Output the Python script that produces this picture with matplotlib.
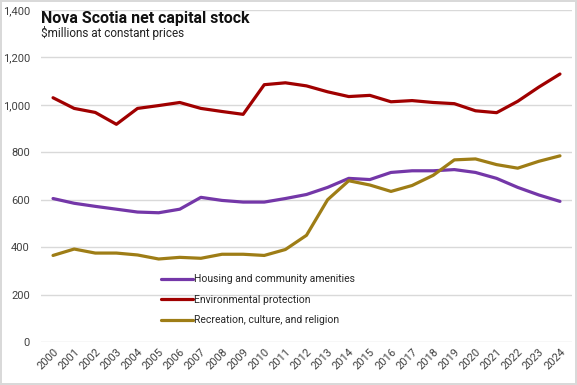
import matplotlib
matplotlib.use("Agg")
import matplotlib.pyplot as plt

years = list(range(2000, 2025))
housing = [605, 585, 572, 560, 548, 545, 560, 610, 597, 590, 590, 605, 622, 652, 690,
           685, 715, 722, 722, 727, 715, 690, 652, 620, 593]
environment = [1030, 985, 968, 918, 985, 997, 1010, 985, 972, 960, 1085, 1093, 1080, 1055, 1035,
               1040, 1013, 1018, 1010, 1005, 975, 967, 1015, 1075, 1130]
recreation = [365, 392, 375, 375, 367, 350, 357, 353, 370, 370, 365, 390, 450, 600, 680,
              662, 635, 660, 703, 768, 772, 748, 733, 762, 785]
series_names = ["Housing and community amenities", "Environmental protection",
                "Recreation, culture, and religion"]
y_ticks = [0, 200, 400, 600, 800, 1000, 1200, 1400]

plt.rcParams['font.family'] = ['Roboto', 'DejaVu Sans']

fig = plt.figure(figsize=(5.77, 3.85), dpi=100)
fig.patch.set_edgecolor('#d9d9d9')
fig.patch.set_linewidth(1.5)
W, H = 577, 385
ax = fig.add_axes([41 / W, 1 - 342 / H, (572 - 41) / W, (342 - 10) / H])

x = list(range(len(years)))
colors = ['#7437A8', '#A00000', '#9E7D16']
for vals, name, c in zip([housing, environment, recreation], series_names, colors):
    ax.plot(x, vals, color=c, lw=2.3, label=name, solid_capstyle='round')

ax.set_xlim(-0.57, 24.57)
ax.set_ylim(0, 1400)
ax.set_yticks(y_ticks)
ax.set_yticklabels([f"{v:,}" for v in y_ticks])
ax.set_xticks(x)
ax.set_xticklabels([str(y) for y in years], rotation=45, ha='right', rotation_mode='anchor')
ax.grid(axis='y', color='#d9d9d9', lw=1)
ax.set_axisbelow(True)
for s in ax.spines.values():
    s.set_visible(False)
ax.tick_params(axis='both', length=0, labelsize=8, colors='#404040')
ax.tick_params(axis='y', pad=8)
ax.tick_params(axis='x', pad=3)

fig.text(41 / W, 1 - 18 / H, "Nova Scotia net capital stock", fontsize=11.5, fontweight='bold',
         va='center', ha='left', color='#111111')
fig.text(41 / W, 1 - 33 / H, "$millions at constant prices", fontsize=8.5,
         va='center', ha='left', color='#222222')

leg = ax.legend(loc='upper left', bbox_to_anchor=(152 / W, 1 - 265 / H),
                bbox_transform=fig.transFigure, frameon=False, fontsize=7.5,
                handlelength=3.0, handletextpad=0.1, labelspacing=1.0)
for t in leg.get_texts():
    t.set_color('#262626')

fig.savefig("out.png", dpi=100)
